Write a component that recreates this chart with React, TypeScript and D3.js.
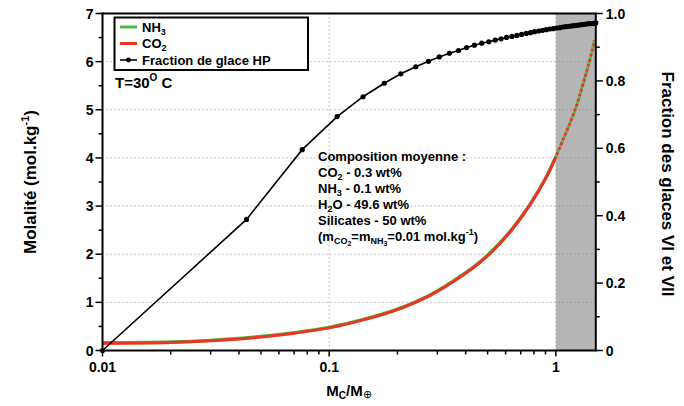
import React from "react";
import * as d3 from "d3";

// Fraction de glace HP (right axis)
const fracMass = [0.01, 0.0432, 0.076, 0.1084, 0.141, 0.175, 0.207, 0.241, 0.274, 0.306, 0.339, 0.372, 0.404, 0.437, 0.471, 0.506, 0.54, 0.573, 0.606, 0.64, 0.673, 0.706, 0.74, 0.773, 0.806, 0.84, 0.873, 0.906, 0.94, 0.973, 1.006, 1.04, 1.073, 1.106, 1.14, 1.173, 1.206, 1.24, 1.273, 1.306, 1.34, 1.373, 1.406, 1.44, 1.473, 1.5];
const fracValue = [0, 0.389, 0.596, 0.694, 0.753, 0.793, 0.821, 0.842, 0.858, 0.871, 0.882, 0.89, 0.899, 0.906, 0.912, 0.916, 0.921, 0.925, 0.929, 0.932, 0.935, 0.938, 0.941, 0.943, 0.946, 0.948, 0.95, 0.952, 0.954, 0.955, 0.957, 0.958, 0.96, 0.961, 0.962, 0.963, 0.964, 0.965, 0.966, 0.967, 0.968, 0.969, 0.97, 0.97, 0.971, 0.972];

// Molality (left axis), NH3 and CO2 overlap
const molMass = [0.01, 0.015, 0.02, 0.03, 0.04, 0.05, 0.07, 0.1, 0.14, 0.2, 0.28, 0.39, 0.46, 0.55, 0.65, 0.77, 0.91, 1.0];
const molNH3 = [0.15, 0.155, 0.165, 0.2, 0.24, 0.28, 0.36, 0.47, 0.63, 0.85, 1.15, 1.57, 1.82, 2.16, 2.55, 3.03, 3.61, 4.02];
const molCO2 = [0.15, 0.155, 0.165, 0.2, 0.24, 0.28, 0.36, 0.47, 0.63, 0.85, 1.15, 1.57, 1.82, 2.16, 2.55, 3.03, 3.61, 4.02];
const molMassHigh = [1.0, 1.08, 1.17, 1.25, 1.32, 1.4, 1.48];
const molHigh = [4.02, 4.4, 4.79, 5.17, 5.55, 5.97, 6.44];

const leftTicks = [0, 1, 2, 3, 4, 5, 6, 7];
const rightTicks = [0, 0.2, 0.4, 0.6, 0.8, 1.0];
const rightTickLabels = ["0", "0.2", "0.4", "0.6", "0.8", "1.0"];
const bottomTicks = [0.01, 0.1, 1];
const bottomTickLabels = ["0.01", "0.1", "1"];

const composition = ["Composition moyenne :"];

export default function App() {
  const L = 102.5, R = 595.8, T = 13.5, B = 350.5;
  const x = d3.scaleLog().domain([0.01, 1.5]).range([L, R]);
  const yL = d3.scaleLinear().domain([0, 7]).range([B, T]);
  const yR = d3.scaleLinear().domain([0, 1]).range([B, T]);
  const font = "'Liberation Sans', Arial, Helvetica, sans-serif";

  const molLine = d3.line<[number, number]>().x(d => x(d[0])).y(d => yL(d[1])).curve(d3.curveCatmullRom.alpha(0.5));
  const fracLine = d3.line<[number, number]>().x(d => x(d[0])).y(d => yR(d[1]));

  const nh3Pts = molMass.map((m, i) => [m, molNH3[i]] as [number, number]);
  const co2Pts = molMass.map((m, i) => [m, molCO2[i]] as [number, number]);
  const highPts = molMassHigh.map((m, i) => [m, molHigh[i]] as [number, number]);
  const fracPts = fracMass.map((m, i) => [m, fracValue[i]] as [number, number]);

  const minorX: number[] = [];
  for (const dec of [0.01, 0.1, 1]) for (let k = 2; k <= 9; k++) { const v = dec * k; if (v <= 1.5) minorX.push(v); }
  const minorL = d3.range(0.5, 7, 1);
  const minorR = d3.range(0.1, 1, 0.2);

  const green = "#4cb849";
  const red = "#ee3322";
  const grid = "#888";

  return (
    <svg width={684} height={406} style={{ display: "block", position: "absolute", left: 0, top: 0 }} fontFamily={font} fontWeight="bold">
      <rect x={0} y={0} width={684} height={406} fill="white" />
      {/* grey region */}
      <rect x={x(1)} y={T} width={R - x(1)} height={B - T} fill="#b5b5b5" />
      {/* grid */}
      {[1, 2, 3, 4, 5, 6].map(v => (
        <line key={"h" + v} x1={L} x2={R} y1={yL(v)} y2={yL(v)} stroke={grid} strokeWidth={1} strokeDasharray="1 3" />
      ))}
      {[0.1, 1].map(v => (
        <line key={"v" + v} x1={x(v)} x2={x(v)} y1={T} y2={B} stroke={grid} strokeWidth={1} strokeDasharray="1 3" />
      ))}
      {/* molality curves */}
      <path d={molLine(nh3Pts) || ""} fill="none" stroke={green} strokeWidth={3.4} transform="translate(0,-0.5)" />
      <path d={molLine(co2Pts) || ""} fill="none" stroke={red} strokeWidth={3} />
      <path d={molLine(highPts) || ""} fill="none" stroke={green} strokeWidth={3} strokeDasharray="2.6 2.6" />
      <path d={molLine(highPts) || ""} fill="none" stroke={red} strokeWidth={3} strokeDasharray="2.6 2.6" strokeDashoffset={2.6} />
      {/* fraction line */}
      <path d={fracLine(fracPts) || ""} fill="none" stroke="black" strokeWidth={1.6} />
      {fracPts.map((d, i) => (
        <circle key={"c" + i} cx={x(d[0])} cy={yR(d[1])} r={2.6} fill="black" />
      ))}
      {/* frame */}
      <line x1={L} x2={R} y1={T} y2={T} stroke="black" strokeWidth={2} />
      <line x1={L} x2={R} y1={B} y2={B} stroke="black" strokeWidth={2} />
      <line x1={L} x2={L} y1={T - 1} y2={B + 1} stroke="black" strokeWidth={2} />
      <line x1={R} x2={R} y1={T - 1} y2={B + 1} stroke="black" strokeWidth={2} />
      {/* left ticks */}
      {leftTicks.map(v => (
        <g key={"lt" + v}>
          <line x1={L - 7} x2={L} y1={yL(v)} y2={yL(v)} stroke="black" strokeWidth={1.5} />
          <text x={L - 9} y={yL(v) + 5} textAnchor="end" fontSize={14}>{v}</text>
        </g>
      ))}
      {minorL.map(v => (
        <line key={"lm" + v} x1={L - 4} x2={L} y1={yL(v)} y2={yL(v)} stroke="black" strokeWidth={1.5} />
      ))}
      {/* right ticks */}
      {rightTicks.map((v, i) => (
        <g key={"rt" + v}>
          <line x1={R} x2={R + 7} y1={yR(v)} y2={yR(v)} stroke="black" strokeWidth={1.5} />
          <text x={R + 10} y={yR(v) + 5} textAnchor="start" fontSize={14}>{rightTickLabels[i]}</text>
        </g>
      ))}
      {minorR.map(v => (
        <line key={"rm" + v} x1={R} x2={R + 4} y1={yR(v)} y2={yR(v)} stroke="black" strokeWidth={1.5} />
      ))}
      {/* bottom ticks */}
      {bottomTicks.map((v, i) => (
        <g key={"bt" + v}>
          <line x1={x(v)} x2={x(v)} y1={B} y2={B + 6} stroke="black" strokeWidth={1.5} />
          <text x={x(v)} y={372} textAnchor="middle" fontSize={14}>{bottomTickLabels[i]}</text>
        </g>
      ))}
      {minorX.map(v => (
        <line key={"bm" + v} x1={x(v)} x2={x(v)} y1={B} y2={B + 4} stroke="black" strokeWidth={1.5} />
      ))}
      {/* axis titles */}
      <text x={349} y={396} textAnchor="middle" fontSize={15}>
        M<tspan fontSize={10} dy={3}>C</tspan><tspan dy={-3}>/M</tspan><tspan fontSize={11} fontWeight="normal" dy={2}>⊕</tspan>
      </text>
      <text transform="translate(36,182) rotate(-90)" textAnchor="middle" fontSize={17}>
        Molalité (mol.kg<tspan fontSize={11} dy={-7}>-1</tspan><tspan dy={7}>)</tspan>
      </text>
      <text transform="translate(662,184) rotate(90)" textAnchor="middle" fontSize={17}>
        Fraction des glaces VI et VII
      </text>
      {/* legend */}
      <rect x={114.5} y={17.5} width={193.5} height={52.5} fill="white" stroke="black" strokeWidth={2} />
      <line x1={120} x2={137} y1={27} y2={27} stroke={green} strokeWidth={3} />
      <text x={142} y={31.5} fontSize={13}>NH<tspan fontSize={9} dy={3}>3</tspan></text>
      <line x1={120} x2={137} y1={43.5} y2={43.5} stroke={red} strokeWidth={3} />
      <text x={142} y={48} fontSize={13}>CO<tspan fontSize={9} dy={3}>2</tspan></text>
      <line x1={120} x2={137} y1={60} y2={60} stroke="black" strokeWidth={1.6} />
      <circle cx={128.5} cy={60} r={2.4} fill="black" />
      <text x={142} y={64.5} fontSize={13}>Fraction de glace HP</text>
      {/* temperature */}
      <text x={115} y={88} fontSize={15}>T=30<tspan fontSize={10} dy={-7}>O</tspan><tspan dy={7}> C</tspan></text>
      {/* composition annotation */}
      <g fontSize={13}>
        <text x={318} y={161}>{composition[0]}</text>
        <text x={318} y={177}>CO<tspan fontSize={9} dy={3}>2</tspan><tspan dy={-3}> - 0.3 wt%</tspan></text>
        <text x={318} y={193}>NH<tspan fontSize={9} dy={3}>3</tspan><tspan dy={-3}> - 0.1 wt%</tspan></text>
        <text x={318} y={209}>H<tspan fontSize={9} dy={3}>2</tspan><tspan dy={-3}>O - 49.6 wt%</tspan></text>
        <text x={318} y={225}>Silicates - 50 wt%</text>
        <text x={318} y={241}>(m<tspan fontSize={9} dy={3}>CO</tspan><tspan fontSize={7} dy={2}>2</tspan><tspan dy={-5}>=m</tspan><tspan fontSize={9} dy={3}>NH</tspan><tspan fontSize={7} dy={2}>3</tspan><tspan dy={-5}>=0.01 mol.kg</tspan><tspan fontSize={9} dy={-6}>-1</tspan><tspan dy={6}>)</tspan></text>
      </g>
    </svg>
  );
}
